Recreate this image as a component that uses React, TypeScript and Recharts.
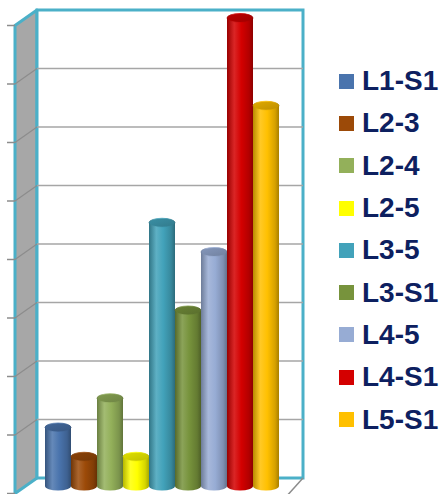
import React from "react";
import { BarChart, Bar, XAxis, YAxis, CartesianGrid, Legend } from "recharts";

const levels = ["L1-S1", "L2-3", "L2-4", "L2-5", "L3-5", "L3-S1", "L4-5", "L4-S1", "L5-S1"];
const counts = [2, 1, 3, 1, 9, 6, 8, 16, 13];
const colors = ["#4a74ad", "#9c4a08", "#93b05a", "#ffff00", "#42a2ba", "#77933c", "#97acd4", "#d40000", "#ffc000"];
const yTicks = [0, 2, 4, 6, 8, 10, 12, 14, 16];

const W = 440;
const H = 494;
const MARGIN = { top: 18, right: 156, bottom: 8, left: 37 };
const BACK = 8; // back wall sits this far above the bar plane
const FRONT = 7.5; // front edge sits this far below it
const SIDE_X = 15;
const WALL_X = 37;
const WALL_RIGHT = 303;
const CYAN = "#4bb0c8";

const row: Record<string, string | number> = { name: "levels" };
levels.forEach((l, i) => (row[l] = counts[i]));
const data = [row];

function shade(hex: string, f: number) {
  const n = parseInt(hex.slice(1), 16);
  const ch = [(n >> 16) & 255, (n >> 8) & 255, n & 255].map((c) =>
    f < 1 ? Math.round(c * f) : Math.round(c + (255 - c) * (f - 1))
  );
  return `rgb(${ch.join(",")})`;
}

function Cylinder(props: any) {
  const { x, y, width, height, gid } = props;
  if (!width || height == null) return null;
  const rx = width / 2;
  const ry = 4.5;
  const bottom = y + height;
  return (
    <g>
      <path
        d={`M${x},${y} L${x},${bottom} A${rx},${ry} 0 0 0 ${x + width},${bottom} L${x + width},${y} Z`}
        fill={`url(#${gid})`}
      />
      <ellipse cx={x + rx} cy={y} rx={rx} ry={ry} fill={`url(#${gid}-top)`} stroke={`url(#${gid})`} strokeWidth={0.8} />
    </g>
  );
}

function gridLine(p: any) {
  const yy = p.y1;
  const plotBottom = H - MARGIN.bottom;
  const edge = Math.abs(yy - MARGIN.top) < 0.5 || Math.abs(yy - plotBottom) < 0.5;
  return (
    <g key={p.key}>
      {!edge && <line x1={WALL_X} y1={yy - BACK} x2={WALL_RIGHT} y2={yy - BACK} stroke="#a6a6a6" strokeWidth={1.5} />}
      {!edge && <line x1={SIDE_X} y1={yy + FRONT} x2={WALL_X} y2={yy - BACK} stroke="#8c8c8c" strokeWidth={1.2} />}
      <line x1={7} y1={yy + FRONT} x2={SIDE_X} y2={yy + FRONT} stroke="#8c8c8c" strokeWidth={1.5} />
    </g>
  );
}

function renderLegend({ payload }: any) {
  return (
    <div>
      {(payload || []).map((item: any) => (
        <div key={item.value} style={{ display: "flex", alignItems: "center", height: 42.3, whiteSpace: "nowrap" }}>
          <span style={{ width: 15, height: 15, background: item.color, marginRight: 8, flex: "none" }} />
          <span style={{ font: 'bold 28px "Liberation Sans", Arial, sans-serif', color: "#0d2060" }}>{item.value}</span>
        </div>
      ))}
    </div>
  );
}

function Walls() {
  const backTop = MARGIN.top - BACK;
  const backBottom = H - MARGIN.bottom - BACK;
  const frontTop = MARGIN.top + FRONT;
  const frontBottom = H - MARGIN.bottom + FRONT;
  return (
    <svg width={W} height={H} style={{ position: "absolute", left: 0, top: 0 }}>
      <polygon
        points={`${SIDE_X},${frontTop} ${WALL_X},${backTop} ${WALL_X},${backBottom} ${SIDE_X},${frontBottom}`}
        fill="#a7a7a7"
        stroke={CYAN}
        strokeWidth={3}
        strokeLinejoin="round"
      />
      <rect x={WALL_X} y={backTop} width={WALL_RIGHT - WALL_X} height={backBottom - backTop} fill="#fff" stroke={CYAN} strokeWidth={3} />
      <line x1={WALL_RIGHT} y1={backBottom} x2={WALL_RIGHT - 18} y2={backBottom + 20} stroke="#8c8c8c" strokeWidth={1.5} />
    </svg>
  );
}

export default function App() {
  return (
    <div style={{ position: "absolute", left: 0, top: 0, width: W, height: H, background: "#fff" }}>
      <Walls />
      <div style={{ position: "absolute", left: 0, top: 0 }}>
        <BarChart width={W} height={H} data={data} margin={MARGIN} barGap={0} barCategoryGap={8}>
          <defs>
            {colors.map((c, i) => (
              <React.Fragment key={i}>
                <linearGradient id={`cyl${i}`} x1="0" y1="0" x2="1" y2="0">
                  <stop offset="0%" stopColor={shade(c, 0.72)} />
                  <stop offset="28%" stopColor={shade(c, 1.15)} />
                  <stop offset="55%" stopColor={c} />
                  <stop offset="85%" stopColor={shade(c, 0.84)} />
                  <stop offset="100%" stopColor={shade(c, 0.66)} />
                </linearGradient>
                <linearGradient id={`cyl${i}-top`} x1="0" y1="0" x2="1" y2="1">
                  <stop offset="0%" stopColor={shade(c, 0.88)} />
                  <stop offset="100%" stopColor={shade(c, 0.75)} />
                </linearGradient>
              </React.Fragment>
            ))}
          </defs>
          <CartesianGrid vertical={false} horizontal={gridLine} />
          <XAxis dataKey="name" hide />
          <YAxis hide domain={[0, 16]} ticks={yTicks} />
          <Legend
            layout="vertical"
            align="center"
            verticalAlign="middle"
            content={renderLegend}
            wrapperStyle={{ position: "absolute", left: 339, top: 60, width: 101 }}
          />
          {levels.map((l, i) => (
            <Bar
              key={l}
              dataKey={l}
              name={l}
              fill={colors[i]}
              isAnimationActive={false}
              shape={(p: any) => <Cylinder {...p} gid={`cyl${i}`} />}
            />
          ))}
        </BarChart>
      </div>
    </div>
  );
}
